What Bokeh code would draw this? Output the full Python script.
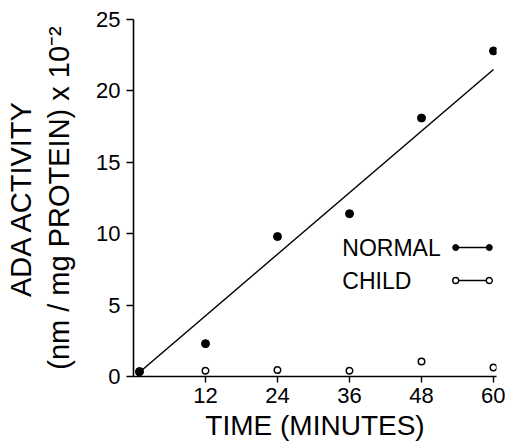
from bokeh.plotting import figure
from bokeh.models import FixedTicker, Range1d, ColumnDataSource
from bokeh.core.properties import value
from bokeh.embed import file_html
from bokeh.resources import INLINE

# ---- data ----
time_min = [1, 12, 24, 36, 48, 60]
normal_activity = [0.35, 2.3, 9.8, 11.4, 18.1, 22.8]
child_activity = [0.3, 0.4, 0.45, 0.4, 1.05, 0.63]
fit_time = [1, 60]
fit_activity = [0.3, 21.5]
x_ticks = [12, 24, 36, 48, 60]
y_ticks = [0, 5, 10, 15, 20, 25]
legend_labels = ["NORMAL", "CHILD"]
x_title = "TIME (MINUTES)"
y_title = "ADA ACTIVITY\n(nm / mg PROTEIN) x 10\u207b\u00b2"

FONT = "Liberation Sans"

p = figure(width=505, height=444, output_backend="svg", toolbar_location=None,
           x_range=Range1d(0, 60.5), y_range=Range1d(0, 25),
           min_border_left=133, min_border_right=9, min_border_top=19,
           min_border_bottom=68, background_fill_color="white",
           border_fill_color="white")
p.outline_line_color = None
p.grid.visible = False

for ax in (p.xaxis[0], p.yaxis[0]):
    ax.axis_line_color = "black"
    ax.axis_line_width = 1.6
    ax.major_tick_line_color = "black"
    ax.major_tick_line_width = 1.4
    ax.minor_tick_line_color = None
    ax.major_tick_in = 0
    ax.major_label_text_font = FONT
    ax.major_label_text_font_size = "22px"
    ax.major_label_text_color = "black"
    ax.axis_label_text_font = FONT
    ax.axis_label_text_font_style = "normal"
    ax.axis_label_text_color = "black"

p.xaxis.ticker = FixedTicker(ticks=x_ticks)
p.yaxis.ticker = FixedTicker(ticks=y_ticks)
p.xaxis.major_tick_out = 6
p.yaxis.major_tick_out = 7
p.xaxis.major_label_standoff = 5
p.yaxis.major_label_standoff = 6
p.xaxis.axis_label = x_title
p.xaxis.axis_label_text_font_size = "28px"
p.xaxis.axis_label_text_line_height = 1.0
p.xaxis.axis_label_standoff = 4
p.yaxis.axis_label = y_title
p.yaxis.axis_label_text_font_size = "29px"
p.yaxis.axis_label_text_line_height = 1.2
p.yaxis.axis_label_standoff = 18

# regression line
p.line(fit_time, fit_activity, line_color="black", line_width=1.5)

# data points
p.scatter(time_min, child_activity, marker="circle", size=6.5,
          fill_color="white", line_color="black", line_width=1.5)
p.scatter(time_min, normal_activity, marker="circle", size=8,
          fill_color="black", line_color="black")

# manual legend (text left, marker-line-marker right)
leg_y = [9.03, 6.72]
text_src = ColumnDataSource(dict(x=[34.8, 34.8], y=leg_y, t=legend_labels))
p.text(x="x", y="y", text="t", source=text_src, text_font=value(FONT),
       text_font_size="23px", text_baseline="middle", text_align="left",
       text_color="black")
lx0, lx1 = 53.7, 59.3
p.line([lx0, lx1], [leg_y[0], leg_y[0]], line_color="black", line_width=1.4)
p.scatter([lx0, lx1], [leg_y[0], leg_y[0]], marker="circle", size=6,
          fill_color="black", line_color="black")
p.line([lx0, lx1], [leg_y[1], leg_y[1]], line_color="black", line_width=1.4)
p.scatter([lx0, lx1], [leg_y[1], leg_y[1]], marker="circle", size=6,
          fill_color="white", line_color="black", line_width=1.4)

open("out.html", "w").write(file_html(p, INLINE))
